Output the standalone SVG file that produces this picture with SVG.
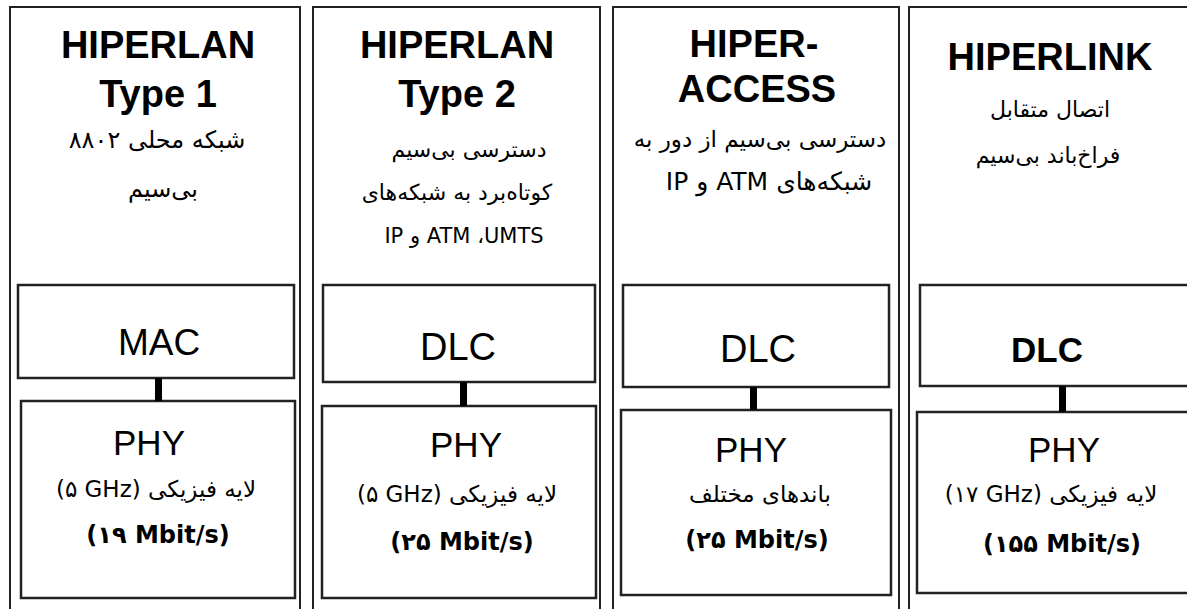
<svg xmlns="http://www.w3.org/2000/svg" width="1187" height="609" viewBox="0 0 1187 609">
<style>
.col{fill:#fff;stroke:#222;stroke-width:2}
.box{fill:#fff;stroke:#222;stroke-width:2.5}
.title{font-family:"Liberation Sans",Arial,sans-serif;font-weight:bold;font-size:38px;text-anchor:middle;fill:#000}
.layer{font-family:"Liberation Sans",Arial,sans-serif;font-size:37px;text-anchor:middle;fill:#000}
.layerb{font-family:"Liberation Sans",Arial,sans-serif;font-weight:bold;font-size:35px;text-anchor:middle;fill:#000}
.fa{font-family:"DejaVu Sans",sans-serif;font-size:21px;text-anchor:middle;fill:#000}
.fam{font-family:"DejaVu Sans",sans-serif;font-size:21px;text-anchor:middle;fill:#000}
.phyfa{font-family:"DejaVu Sans",sans-serif;font-size:23px;text-anchor:middle;fill:#000}
.rate{font-family:"DejaVu Sans",sans-serif;font-weight:bold;font-size:24px;text-anchor:middle;fill:#000}
.conn{fill:#000}
</style>
<rect width="1187" height="609" fill="#fff"/>
<g id="col1">
<rect class="col" x="10" y="7" width="290" height="620"/>
<text class="title" x="158" y="58">HIPERLAN</text>
<text class="title" x="158" y="107">Type 1</text>
<text class="fa" x="157" y="148" direction="rtl" style="font-size:24px">شبکه محلی ۸۸۰۲</text>
<text class="fa" x="163" y="197" direction="rtl" style="font-size:24px">بی‌سیم</text>
</g>
<g id="col2">
<rect class="col" x="313" y="7" width="287" height="620"/>
<text class="title" x="457" y="58">HIPERLAN</text>
<text class="title" x="457" y="107">Type 2</text>
<text class="fa" x="469" y="157" direction="rtl" style="font-size:22px">دسترسی بی‌سیم</text>
<text class="fa" x="457" y="200" direction="rtl" style="font-size:22px">کوتاه‌برد به شبکه‌های</text>
<text class="fam" x="464" y="243" direction="rtl">UMTS،&#x200F; ATM و IP</text>
</g>
<g id="col3">
<rect class="col" x="613" y="7" width="286" height="620"/>
<text class="title" x="754" y="57">HIPER-</text>
<text class="title" x="757" y="102">ACCESS</text>
<text class="fa" x="760" y="147" direction="rtl" style="font-size:23px">دسترسی بی‌سیم از دور به</text>
<text class="fa" x="769" y="190" direction="rtl" style="font-size:25px">شبکه‌های ATM و IP</text>
</g>
<g id="col4">
<rect class="col" x="909" y="7" width="300" height="620"/>
<text class="title" x="1050" y="70">HIPERLINK</text>
<text class="fa" x="1050" y="117" direction="rtl" style="font-size:22px">اتصال متقابل</text>
<text class="fa" x="1048" y="163" direction="rtl" style="font-size:22px">فراخ‌باند بی‌سیم</text>
</g>
<g id="mac1">
<rect class="box" x="18" y="285" width="276" height="93"/>
<text class="layer" x="159" y="355">MAC</text>
</g>
<g id="phy1">
<rect class="box" x="21" y="401" width="274" height="197"/>
<text class="layer" x="149" y="455" style="font-size:35px">PHY</text>
<text class="phyfa" x="156" y="497">(۵ GHz) لایه فیزیکی</text>
<text class="rate" x="158" y="543">(۱۹ Mbit/s)</text>
</g>
<g id="dlc2">
<rect class="box" x="323" y="285" width="272" height="97"/>
<text class="layer" x="458" y="360" style="font-size:38px">DLC</text>
</g>
<g id="phy2">
<rect class="box" x="322" y="406" width="274" height="192"/>
<text class="layer" x="466" y="457" style="font-size:35px">PHY</text>
<text class="phyfa" x="457" y="502">(۵ GHz) لایه فیزیکی</text>
<text class="rate" x="462" y="550">(۲۵ Mbit/s)</text>
</g>
<g id="dlc3">
<rect class="box" x="623" y="285" width="266" height="102"/>
<text class="layer" x="758" y="362" style="font-size:38px">DLC</text>
</g>
<g id="phy3">
<rect class="box" x="621" y="410" width="270" height="185"/>
<text class="layer" x="751" y="462" style="font-size:35px">PHY</text>
<text class="phyfa" x="760" y="502" direction="rtl">باندهای مختلف</text>
<text class="rate" x="757" y="548">(۲۵ Mbit/s)</text>
</g>
<g id="dlc4">
<rect class="box" x="920" y="285" width="290" height="101"/>
<text class="layerb" x="1047" y="362">DLC</text>
</g>
<g id="phy4">
<rect class="box" x="917" y="412" width="293" height="181"/>
<text class="layer" x="1064" y="462" style="font-size:35px">PHY</text>
<text class="phyfa" x="1051" y="502">(۱۷ GHz) لایه فیزیکی</text>
<text class="rate" x="1062" y="552">(۱۵۵ Mbit/s)</text>
</g>
<g id="connectors">
<rect class="conn" x="155" y="378" width="7" height="23"/>
<rect class="conn" x="460" y="382" width="7" height="24"/>
<rect class="conn" x="750" y="387" width="7" height="23"/>
<rect class="conn" x="1059" y="386" width="7" height="26"/>
</g>
</svg>
